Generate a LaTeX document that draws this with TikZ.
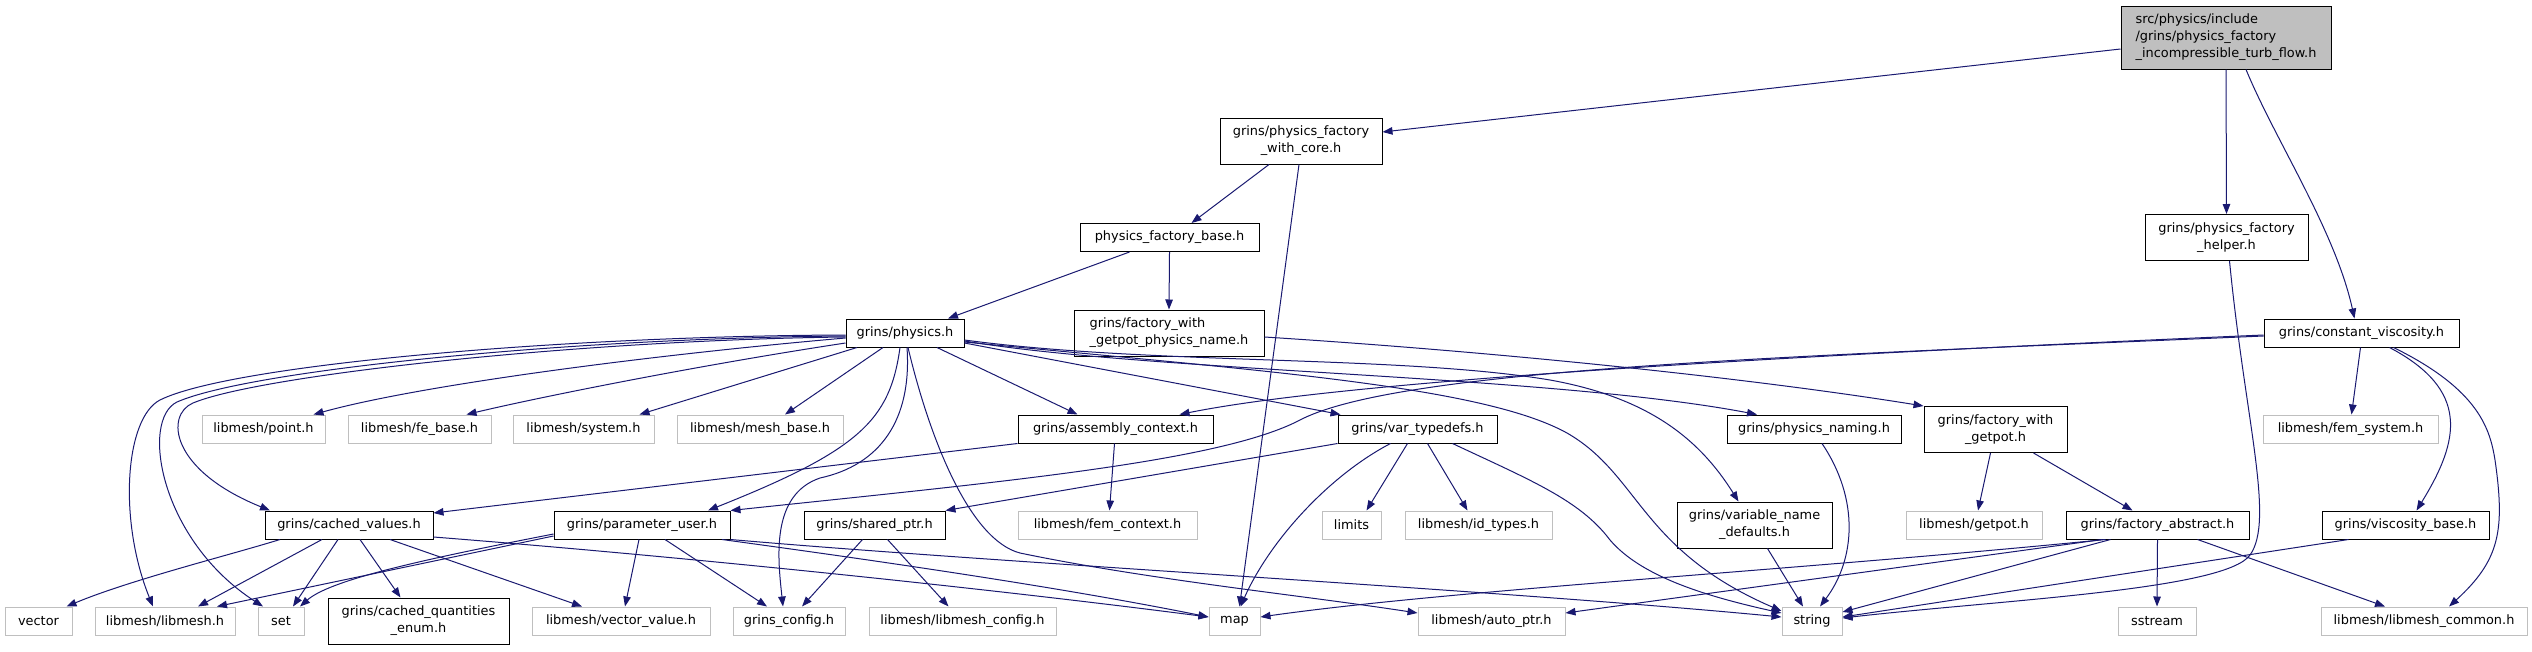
\documentclass[tikz,border=0pt]{standalone}
\usepackage{fontspec}
\setmainfont{DejaVu Sans}
\usetikzlibrary{arrows.meta}
\definecolor{edgeblue}{HTML}{191970}
\definecolor{extgray}{HTML}{BFBFBF}
\definecolor{topgray}{HTML}{BFBFBF}
\begin{document}
\begin{tikzpicture}[x=1pt,y=-1pt,
  nd/.style={draw=black, line width=1pt, fill=white, inner sep=0pt, align=center,
     minimum height=28pt, font=\fontsize{12.9}{17}\selectfont},
  ex/.style={nd, draw=extgray},
  dep/.style={draw=edgeblue, line width=1pt, -{Triangle[length=10pt,width=7.5pt]}, fill=none}
]
\useasboundingbox (0,0) rectangle (2532,651);
% ---- nodes ----
\node[nd, fill=topgray, align=left, minimum width=210pt, minimum height=63pt] (T) at (2226,37.5) {src/physics/include\\/grins/physics\_factory\\\_incompressible\_turb\_flow.h};
\node[nd, minimum width=162pt, minimum height=46pt] (WC) at (1301,141) {grins/physics\_factory\\\_with\_core.h};
\node[nd, minimum width=179pt] (PFB) at (1169.5,237.5) {physics\_factory\_base.h};
\node[nd, minimum width=163pt, minimum height=46pt] (PHF) at (2226.5,237.5) {grins/physics\_factory\\\_helper.h};
\node[nd, minimum width=118pt] (P) at (905,333) {grins/physics.h};
\node[nd, align=left, minimum width=190pt, minimum height=46pt] (FGPN) at (1169,333) {grins/factory\_with\\\_getpot\_physics\_name.h};
\node[nd, minimum width=195pt] (CVis) at (2361.5,333) {grins/constant\_viscosity.h};
% row 2
\node[ex, minimum width=123pt] (point) at (263.5,429) {libmesh/point.h};
\node[ex, minimum width=143pt] (febase) at (419.5,429) {libmesh/fe\_base.h};
\node[ex, minimum width=141pt] (system) at (583.5,429) {libmesh/system.h};
\node[ex, minimum width=166pt] (meshbase) at (760,429) {libmesh/mesh\_base.h};
\node[nd, minimum width=195pt] (AC) at (1115.5,429) {grins/assembly\_context.h};
\node[nd, minimum width=159pt] (VT) at (1417.5,429) {grins/var\_typedefs.h};
\node[nd, minimum width=174pt] (PN) at (1814,429) {grins/physics\_naming.h};
\node[nd, minimum width=143pt, minimum height=46pt] (FWG) at (1995.5,429.5) {grins/factory\_with\\\_getpot.h};
\node[ex, minimum width=175pt] (femsystem) at (2350.5,429) {libmesh/fem\_system.h};
% row 3
\node[nd, minimum width=168pt] (CV) at (349,525) {grins/cached\_values.h};
\node[nd, minimum width=176pt] (PU) at (642,525) {grins/parameter\_user.h};
\node[nd, minimum width=141pt] (SP) at (874.5,525) {grins/shared\_ptr.h};
\node[ex, minimum width=179pt] (femcontext) at (1107.5,525) {libmesh/fem\_context.h};
\node[ex, minimum width=59pt] (limits) at (1351.5,525) {limits};
\node[ex, minimum width=147pt] (idtypes) at (1478.5,525) {libmesh/id\_types.h};
\node[nd, minimum width=155pt, minimum height=46pt] (VND) at (1754.5,525) {grins/variable\_name\\\_defaults.h};
\node[ex, minimum width=136pt] (getpot) at (1974,525) {libmesh/getpot.h};
\node[nd, minimum width=183pt] (FA) at (2157.5,525) {grins/factory\_abstract.h};
\node[nd, minimum width=167pt] (VB) at (2405.5,525) {grins/viscosity\_base.h};
% row 4
\node[ex, minimum width=67pt] (vector) at (38.5,621) {vector};
\node[ex, minimum width=140pt] (libmesh) at (165,621) {libmesh/libmesh.h};
\node[ex, minimum width=46pt] (set) at (281,621) {set};
\node[nd, minimum width=181pt, minimum height=46pt] (CQE) at (418.5,621) {grins/cached\_quantities\\\_enum.h};
\node[ex, minimum width=178pt] (vecval) at (621,621) {libmesh/vector\_value.h};
\node[ex, minimum width=112pt] (gconfig) at (789,621) {grins\_config.h};
\node[ex, minimum width=187pt] (lmconfig) at (962.5,621) {libmesh/libmesh\_config.h};
\node[ex, minimum width=51pt] (map) at (1234.5,621) {map};
\node[ex, minimum width=147pt] (autoptr) at (1491.5,621) {libmesh/auto\_ptr.h};
\node[ex, minimum width=60pt] (string) at (1812,621) {string};
\node[ex, minimum width=78pt] (sstream) at (2157,621) {sstream};
\node[ex, minimum width=206pt] (lmcommon) at (2424,621) {libmesh/libmesh\_common.h};
% ---- edges ----
% top node
\draw[dep] ([yshift=-11.5pt]T.west) -- ([yshift=9pt]WC.east);
\draw[dep] (T.south) -- (PHF.north);
\draw[dep] ([xshift=20pt]T.south) .. controls (2275,140) and (2335,230) .. ([xshift=-7pt]CVis.north);
% with_core, factory base
\draw[dep] ([xshift=-32pt]WC.south) -- ([xshift=22pt]PFB.north);
\draw[dep] ([xshift=-2pt]WC.south) -- ([xshift=5pt]map.north);
\draw[dep] ([xshift=-40pt]PFB.south) -- ([xshift=43pt]P.north);
\draw[dep] (PFB.south) -- (FGPN.north);
\draw[dep] ([yshift=-4pt]FGPN.east) .. controls (1500,352) and (1750,378) .. (FWG.north west);
% physics.h
\draw[dep] ([yshift=-5pt]P.west) .. controls (650,355) and (420,385) .. ([xshift=50pt]point.north);
\draw[dep] ([yshift=-10pt]P.west) .. controls (700,365) and (540,397) .. ([xshift=47pt]febase.north);
\draw[dep] ([xshift=-48pt]P.south) -- ([xshift=56pt]system.north);
\draw[dep] ([xshift=-22pt]P.south) -- ([xshift=25pt]meshbase.north);
\draw[dep] ([yshift=-4pt]P.west) .. controls (580,340) and (260,375) .. (193,403) .. controls (165,415) and (170,470) .. ([xshift=-79pt]CV.north);
\draw[dep] ([yshift=-2pt]P.west) .. controls (560,336) and (230,365) .. (160,400) .. controls (125,418) and (118,520) .. ([xshift=-12pt]libmesh.north);
\draw[dep] ([yshift=-3pt]P.west) .. controls (570,338) and (250,370) .. (177,402) .. controls (140,420) and (160,540) .. ([xshift=-18pt]set.north);
\draw[dep] ([xshift=32pt]P.south) -- ([xshift=-38pt]AC.north);
\draw[dep] ([yshift=-10pt]P.east) -- ([xshift=-77pt]VT.north);
\draw[dep] ([yshift=-8pt]P.east) .. controls (1150,372) and (1550,375) .. ([xshift=-57pt]PN.north);
\draw[dep] ([yshift=-7pt]P.east) .. controls (1150,365) and (1400,355) .. (1550,380) .. controls (1650,398) and (1700,440) .. ([xshift=-16pt]VND.north);
\draw[dep] ([yshift=-9pt]P.east) .. controls (1250,370) and (1480,385) .. (1567,433) .. controls (1640,475) and (1640,550) .. ([yshift=10pt]string.west);
\draw[dep] ([xshift=-5pt]P.south) .. controls (890,420) and (860,450) .. ([xshift=66pt]PU.north);
\draw[dep] ([xshift=2pt]P.south) .. controls (912,420) and (880,465) .. (820,478) .. controls (770,495) and (778,560) .. ([xshift=-6pt]gconfig.north);
\draw[dep] ([xshift=3pt]P.south) .. controls (930,440) and (970,540) .. (1020,553) .. controls (1150,580) and (1300,595) .. ([yshift=8pt]autoptr.west);
% constant viscosity
\draw[dep] ([yshift=-2pt]CVis.west) .. controls (1800,355) and (1350,380) .. ([xshift=64pt]AC.north);
\draw[dep] ([yshift=-3pt]CVis.west) .. controls (1800,356) and (1400,368) .. (1300,420) .. controls (1220,462) and (1000,482) .. (PU.north east);
\draw[dep] ([xshift=-1pt]CVis.south) -- ([xshift=1pt]femsystem.north);
\draw[dep] ([xshift=28pt]CVis.south) .. controls (2470,390) and (2460,440) .. ([xshift=11pt]VB.north);
\draw[dep] ([xshift=32pt]CVis.south) .. controls (2480,390) and (2490,430) .. (2495,460) .. controls (2505,530) and (2500,560) .. ([xshift=25pt]lmcommon.north);
% helper, viscosity base, factory abstract
\draw[dep] ([xshift=3pt]PHF.south) .. controls (2245,420) and (2275,520) .. (2250,555) .. controls (2225,590) and (2000,600) .. ([yshift=3pt]string.east);
\draw[dep] ([xshift=-57pt]VB.south) -- ([yshift=4pt]string.east);
\draw[dep] ([xshift=-47pt]FA.south) -- ([yshift=9pt]string.east);
\draw[dep] ([xshift=-52pt]FA.south) .. controls (1800,570) and (1450,590) .. ([yshift=4pt]map.east);
\draw[dep] ([xshift=-55pt]FA.south) -- ([yshift=8pt]autoptr.east);
\draw[dep] (FA.south) -- (sstream.north);
\draw[dep] ([xshift=40pt]FA.south) -- ([xshift=-39pt]lmcommon.north);
\draw[dep] ([xshift=-5pt]FWG.south) -- ([xshift=4pt]getpot.north);
\draw[dep] ([xshift=38pt]FWG.south) -- ([xshift=-25pt]FA.north);
\draw[dep] ([xshift=8pt]PN.south) .. controls (1860,500) and (1855,560) .. ([xshift=8pt]string.north);
\draw[dep] ([xshift=13pt]VND.south) -- ([xshift=-9pt]string.north);
% var_typedefs
\draw[dep] ([xshift=-10pt]VT.south) -- ([xshift=15pt]limits.north);
\draw[dep] ([xshift=10pt]VT.south) -- ([xshift=-11pt]idtypes.north);
\draw[dep] ([xshift=-27pt]VT.south) .. controls (1330,475) and (1270,540) .. ([xshift=6pt]map.north);
\draw[dep] (VT.south west) -- (SP.north east);
\draw[dep] ([xshift=35pt]VT.south) .. controls (1530,480) and (1580,500) .. (1610,540) .. controls (1640,575) and (1700,595) .. ([yshift=8pt]string.west);
% assembly context, shared_ptr
\draw[dep] ([xshift=-1pt]AC.south) -- ([xshift=2pt]femcontext.north);
\draw[dep] (AC.south west) -- ([yshift=12pt]CV.east);
\draw[dep] ([xshift=-12pt]SP.south) -- ([xshift=13pt]gconfig.north);
\draw[dep] ([xshift=13pt]SP.south) -- ([xshift=-14pt]lmconfig.north);
% parameter_user
\draw[dep] ([xshift=-3pt]PU.south) -- ([xshift=4pt]vecval.north);
\draw[dep] ([xshift=23pt]PU.south) -- ([xshift=-22pt]gconfig.north);
\draw[dep] ([xshift=80pt]PU.south) .. controls (850,557) and (1050,585) .. ([yshift=4pt]map.west);
\draw[dep] (PU.south east) .. controls (1000,563) and (1500,590) .. ([yshift=4pt]string.west);
\draw[dep] ([yshift=-11pt]PU.west) -- ([xshift=52pt]libmesh.north);
\draw[dep] ([yshift=-9pt]PU.west) .. controls (420,560) and (330,580) .. ([xshift=19pt]set.north);
% cached_values
\draw[dep] ([xshift=-69pt]CV.south) .. controls (230,555) and (130,580) .. ([xshift=28pt]vector.north);
\draw[dep] ([xshift=-27pt]CV.south) -- ([xshift=33pt]libmesh.north);
\draw[dep] ([xshift=-11pt]CV.south) -- ([xshift=12pt]set.north);
\draw[dep] ([xshift=11pt]CV.south) -- ([xshift=-18pt]CQE.north);
\draw[dep] ([xshift=41pt]CV.south) -- ([xshift=-39pt]vecval.north);
\draw[dep] ([yshift=-12pt]CV.east) .. controls (700,558) and (1000,590) .. ([yshift=4pt]map.west);
\end{tikzpicture}
\end{document}
